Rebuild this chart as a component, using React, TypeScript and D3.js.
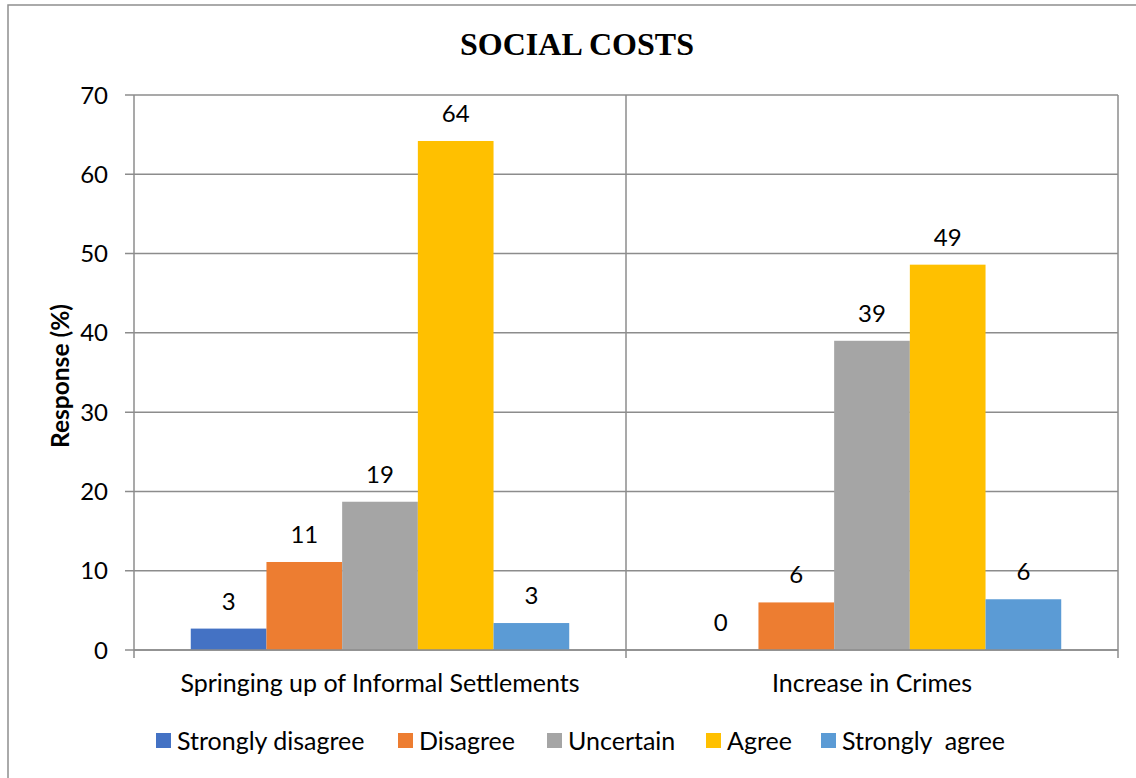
import React from "react";
import * as d3 from "d3";

// Survey responses (%) on social costs, by statement and level of agreement
const categories = ["Springing up of Informal Settlements", "Increase in Crimes"];
const seriesNames = ["Strongly disagree", "Disagree", "Uncertain", "Agree", "Strongly  agree"];
const seriesColors = ["#4472C4", "#ED7D31", "#A5A5A5", "#FFC000", "#5B9BD5"];
const informalSettlements = [2.7, 11.1, 18.7, 64.2, 3.4];
const increaseInCrimes = [0, 6.0, 39.0, 48.6, 6.4];
const yTicks = [0, 10, 20, 30, 40, 50, 60, 70];

const W = 1136;
const H = 778;
const plot = { left: 134, right: 1118, top: 95, bottom: 650 };
const FONT = "Lato, 'Open Sans', sans-serif";
const GRID = "#8c8c8c";

export default function App() {
  const values = [informalSettlements, increaseInCrimes];
  const x0 = d3.scaleBand<string>().domain(categories).range([plot.left, plot.right]).padding(0);
  const x1 = d3
    .scaleBand<string>()
    .domain(seriesNames)
    .range([0, x0.bandwidth()])
    .paddingInner(0)
    .paddingOuter(0.75);
  const y = d3.scaleLinear().domain([0, 70]).range([plot.bottom, plot.top]);
  const fmt = d3.format(".0f");

  // legend layout: swatch x positions
  const legendX = [156, 398, 547, 706, 821];
  const legendY = 741;

  return (
    <svg
      width={W}
      height={H}
      style={{ position: "absolute", left: 0, top: 0, background: "#fff" }}
    >
      {/* chart frame */}
      <rect x={8} y={5} width={W + 20} height={H + 20} fill="#fff" stroke="#8f8f8f" strokeWidth={1.5} />

      <text
        x={577}
        y={55}
        textAnchor="middle"
        fontFamily="'Liberation Serif', 'Times New Roman', serif"
        fontWeight="bold"
        fontSize={32}
        fill="#000"
      >
        SOCIAL COSTS
      </text>

      {/* horizontal gridlines and y ticks */}
      {yTicks.map((t) => (
        <g key={t}>
          <line x1={plot.left - 9} x2={plot.right} y1={y(t)} y2={y(t)} stroke={GRID} strokeWidth={1.5} />
          <text
            x={108}
            y={y(t)}
            dy="0.36em"
            textAnchor="end"
            fontFamily={FONT}
            fontSize={24}
            fill="#000"
          >
            {t}
          </text>
        </g>
      ))}

      {/* vertical axis and category boundary gridlines */}
      <line x1={plot.left} x2={plot.left} y1={plot.top} y2={plot.bottom + 8} stroke={GRID} strokeWidth={1.5} />
      {categories.map((c) => {
        const xr = (x0(c) as number) + x0.bandwidth();
        return (
          <line key={c} x1={xr} x2={xr} y1={plot.top} y2={plot.bottom + 8} stroke={GRID} strokeWidth={1.5} />
        );
      })}

      {/* bars */}
      {categories.map((c, ci) => (
        <g key={c} transform={`translate(${x0(c)},0)`}>
          {seriesNames.map((s, si) => {
            const v = values[ci][si];
            const bx = x1(s) as number;
            return (
              <g key={s}>
                <rect
                  x={bx}
                  y={y(v)}
                  width={x1.bandwidth()}
                  height={plot.bottom - y(v)}
                  fill={seriesColors[si]}
                />
                <text
                  x={bx + x1.bandwidth() / 2}
                  y={y(v) - 19}
                  textAnchor="middle"
                  fontFamily={FONT}
                  fontSize={24}
                  fill="#000"
                >
                  {fmt(v)}
                </text>
              </g>
            );
          })}
        </g>
      ))}

      {/* baseline */}
      <line x1={plot.left} x2={plot.right} y1={plot.bottom} y2={plot.bottom} stroke={GRID} strokeWidth={1.5} />

      {/* category labels */}
      {categories.map((c) => (
        <text
          key={c}
          x={(x0(c) as number) + x0.bandwidth() / 2}
          y={692}
          textAnchor="middle"
          fontFamily={FONT}
          fontSize={25}
          fill="#000"
        >
          {c}
        </text>
      ))}

      {/* y axis title */}
      <text
        transform={`translate(69,${376}) rotate(-90)`}
        textAnchor="middle"
        fontFamily={FONT}
        fontWeight="bold"
        fontSize={24.5}
        fill="#000"
      >
        Response (%)
      </text>

      {/* legend */}
      {seriesNames.map((s, i) => (
        <g key={s}>
          <rect x={legendX[i]} y={legendY - 8} width={15} height={15} fill={seriesColors[i]} />
          <text
            x={legendX[i] + 21}
            y={legendY}
            dy="0.36em"
            fontFamily={FONT}
            fontSize={25}
            fill="#000"
            style={{ whiteSpace: "pre" }}
          >
            {s}
          </text>
        </g>
      ))}
    </svg>
  );
}
